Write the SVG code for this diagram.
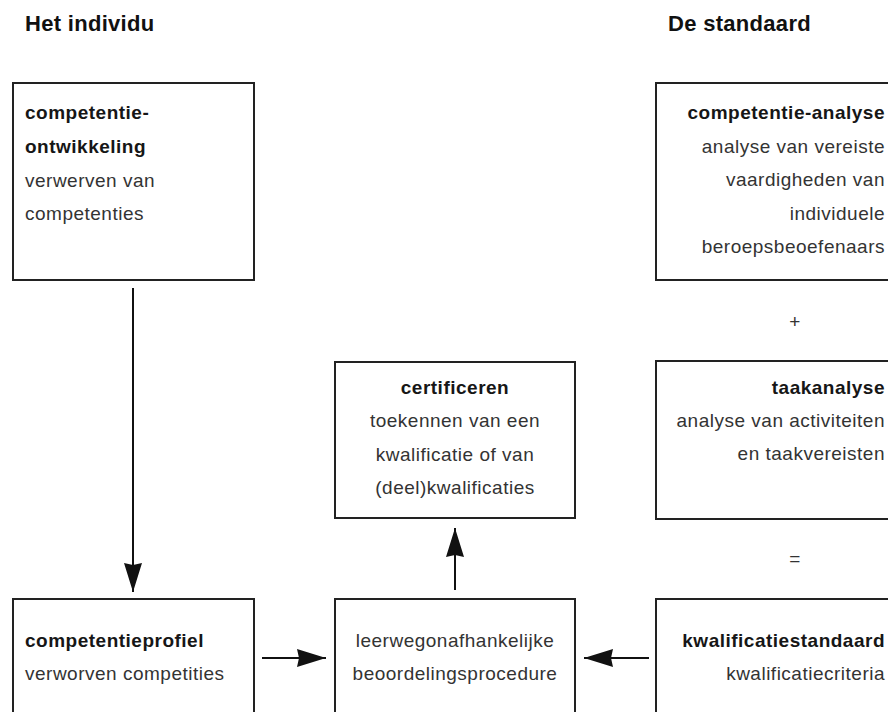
<svg xmlns="http://www.w3.org/2000/svg" width="888" height="712" viewBox="0 0 888 712">
<style>
text{font-family:"Liberation Sans",Arial,Helvetica,sans-serif;}
.hd{font-size:22px;font-weight:bold;fill:#111;letter-spacing:0.3px;}
.b{font-size:19px;font-weight:bold;fill:#161616;letter-spacing:0.5px;}
.r{font-size:19px;fill:#333;letter-spacing:0.5px;}
.box{fill:#fff;stroke:#222;stroke-width:2;}
.c{text-anchor:middle;}
.e{text-anchor:end;}
.ln{stroke:#111;stroke-width:2;fill:none;marker-end:url(#ah);}
</style>
<defs>
<marker id="ah" viewBox="0 0 29 18" refX="29" refY="9" markerWidth="29" markerHeight="18" markerUnits="userSpaceOnUse" orient="auto">
<path d="M0,0 L29,9 L0,18 L2,9 z" fill="#111"/>
</marker>
</defs>
<rect width="888" height="712" fill="#fff"/>
<text class="hd" x="25" y="31">Het individu</text>
<text class="hd" x="668" y="31">De standaard</text>

<g id="competentieontwikkeling">
<rect class="box" x="13" y="83" width="241" height="197"/>
<text class="b" x="25" y="119">competentie-</text>
<text class="b" x="25" y="153">ontwikkeling</text>
<text class="r" x="25" y="187">verwerven van</text>
<text class="r" x="25" y="220">competenties</text>
</g>

<g id="competentieanalyse">
<rect class="box" x="656" y="83" width="241" height="197"/>
<text class="b e" x="885" y="119">competentie-analyse</text>
<text class="r e" x="885" y="153">analyse van vereiste</text>
<text class="r e" x="885" y="186">vaardigheden van</text>
<text class="r e" x="885" y="220">individuele</text>
<text class="r e" x="885" y="253">beroepsbeoefenaars</text>
</g>

<text class="r c" x="795" y="328">+</text>

<g id="taakanalyse">
<rect class="box" x="656" y="361" width="241" height="158"/>
<text class="b e" x="885" y="394">taakanalyse</text>
<text class="r e" x="885" y="427">analyse van activiteiten</text>
<text class="r e" x="885" y="460">en taakvereisten</text>
</g>

<text class="r c" x="795" y="565">=</text>

<g id="certificeren">
<rect class="box" x="335" y="362" width="240" height="156"/>
<text class="b c" x="455" y="394">certificeren</text>
<text class="r c" x="455" y="427">toekennen van een</text>
<text class="r c" x="455" y="461">kwalificatie of van</text>
<text class="r c" x="455" y="494">(deel)kwalificaties</text>
</g>

<g id="competentieprofiel">
<rect class="box" x="13" y="599" width="241" height="130"/>
<text class="b" x="25" y="647">competentieprofiel</text>
<text class="r" x="25" y="680">verworven competities</text>
</g>

<g id="beoordelingsprocedure">
<rect class="box" x="335" y="599" width="240" height="130"/>
<text class="r c" x="455" y="647">leerwegonafhankelijke</text>
<text class="r c" x="455" y="680">beoordelingsprocedure</text>
</g>

<g id="kwalificatiestandaard">
<rect class="box" x="656" y="599" width="241" height="130"/>
<text class="b e" x="885" y="647">kwalificatiestandaard</text>
<text class="r e" x="885" y="680">kwalificatiecriteria</text>
</g>

<g id="connectors">
<line class="ln" x1="133" y1="288" x2="133" y2="592"/>
<line class="ln" x1="455" y1="590" x2="455" y2="528"/>
<line class="ln" x1="262" y1="658" x2="326" y2="658"/>
<line class="ln" x1="649" y1="658" x2="584" y2="658"/>
</g>
</svg>
